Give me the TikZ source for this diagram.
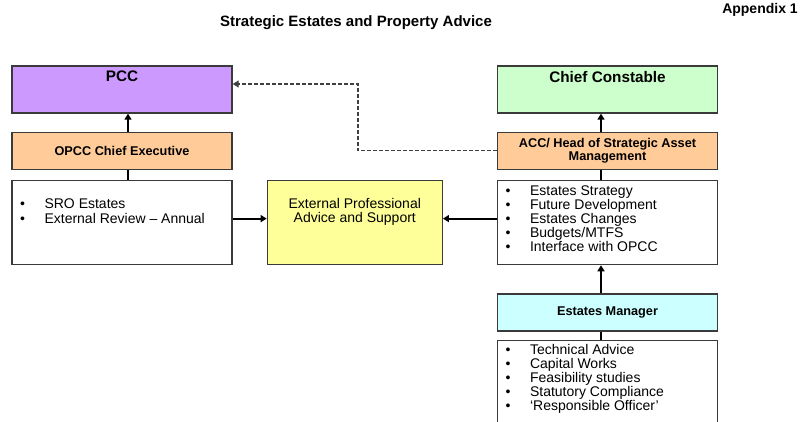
\documentclass[tikz,border=0pt]{standalone}
\usepackage{fontspec}
\setmainfont{Liberation Sans}
\usetikzlibrary{positioning, arrows.meta}

\definecolor{pccpurple}{HTML}{CC99FF}
\definecolor{execorange}{HTML}{FFCC99}
\definecolor{ccgreen}{HTML}{CCFFCC}
\definecolor{extyellow}{HTML}{FFFF99}
\definecolor{mgrcyan}{HTML}{CCFFFF}
\definecolor{boxline}{HTML}{3A3A3A}

\tikzset{
  box/.style={draw=boxline, line width=1.3pt, inner sep=0pt},
  topbox/.style={box, minimum width=220pt, minimum height=47pt},
  rolebox/.style={box, minimum width=220pt, minimum height=37pt, align=center,
    font=\fontsize{12.7}{12.5}\selectfont\bfseries},
  listbox/.style={box, minimum width=220pt, minimum height=84pt},
  head/.style={inner sep=0pt, font=\fontsize{15.3}{16}\selectfont\bfseries},
  bullets/.style={inner sep=0pt, align=left, font=\fontsize{14}{14}\selectfont},
  uparrow/.style={line width=2.4pt, -{Triangle[length=6pt,width=7pt]}},
  link/.style={line width=2.4pt},
  sidearrow/.style={line width=2pt, -{Triangle[length=6pt,width=7pt]}},
  dashline/.style={draw=black!75, line width=1.2pt, dash pattern=on 3.5pt off 2.5pt,
    -{Triangle[length=6pt,width=7pt]}},
}
\newcommand{\bul}{\makebox[24.5pt][l]{\textbullet}}

\begin{document}
\begin{tikzpicture}[x=1pt, y=-1pt]
    \clip (0,0) rectangle (803,421);
    \node[font=\fontsize{15}{16}\selectfont\bfseries] (title) at (356,22.5) {Strategic Estates and Property Advice};
    \node[font=\fontsize{14}{16}\selectfont\bfseries] (appx) at (760,10) {Appendix 1};

    % left column
    \node[topbox, fill=pccpurple] (pcc) at (122,89.5) {};
    \node[head, below=5.5pt of pcc.north] (pcctext) {PCC};
    \node[rolebox, fill=execorange, below=18pt of pcc] (opcc) {OPCC Chief Executive};
    \node[listbox, below=10pt of opcc] (sro) {};
    \node[bullets, below right=19pt and 8.5pt of sro.north west] (srolist) {\bul SRO Estates\\[1pt] \bul External Review – Annual};

    % middle
    \node[listbox, minimum width=175pt, fill=extyellow, right=34pt of sro] (ext) {};
    \node[bullets, align=center, below=18.5pt of ext.north] (exttext) {External Professional\\Advice and Support};

    % right column
    \node[topbox, fill=ccgreen] (cc) at (607.5,89.5) {};
    \node[head, below=5.5pt of cc.north] (cctext) {Chief Constable};
    \node[rolebox, fill=execorange, below=18pt of cc] (acc) {ACC/ Head of Strategic Asset\\Management};
    \node[listbox, below=10pt of acc] (est) {};
    \node[bullets, below right=5.5pt and 8.5pt of est.north west] (estlist) {\bul Estates Strategy\\ \bul Future Development\\ \bul Estates Changes\\ \bul Budgets/MTFS\\ \bul Interface with OPCC};
    \node[rolebox, fill=mgrcyan, below=28pt of est] (mgr) {Estates Manager};
    \node[listbox, minimum height=100pt, below=8pt of mgr] (tech) {};
    \node[bullets, below right=5pt and 8.5pt of tech.north west] (techlist) {\bul Technical Advice\\ \bul Capital Works\\ \bul Feasibility studies\\ \bul Statutory Compliance\\ \bul ‘Responsible Officer’};

    % connectors
    \draw[uparrow] ([xshift=6pt]opcc.north) -- ([xshift=6pt]pcc.south);
    \draw[link] ([xshift=6pt]sro.north) -- ([xshift=6pt]opcc.south);
    \draw[uparrow] ([xshift=-6.5pt]acc.north) -- ([xshift=-6.5pt]cc.south);
    \draw[link] ([xshift=-6.5pt]est.north) -- ([xshift=-6.5pt]acc.south);
    \draw[uparrow] ([xshift=-6.5pt]mgr.north) -- ([xshift=-6.5pt]est.south);
    \draw[link] ([xshift=-6.5pt]tech.north) -- ([xshift=-6.5pt]mgr.south);
    \draw[sidearrow] ([yshift=4pt]sro.east) -- ([yshift=4pt]ext.west);
    \draw[sidearrow] ([yshift=4pt]est.west) -- ([yshift=4pt]ext.east);
    \coordinate (bend) at (358,84);
    \draw[dashline] (acc.west) -| (bend) -- ([yshift=5.5pt]pcc.east);
\end{tikzpicture}
\end{document}
